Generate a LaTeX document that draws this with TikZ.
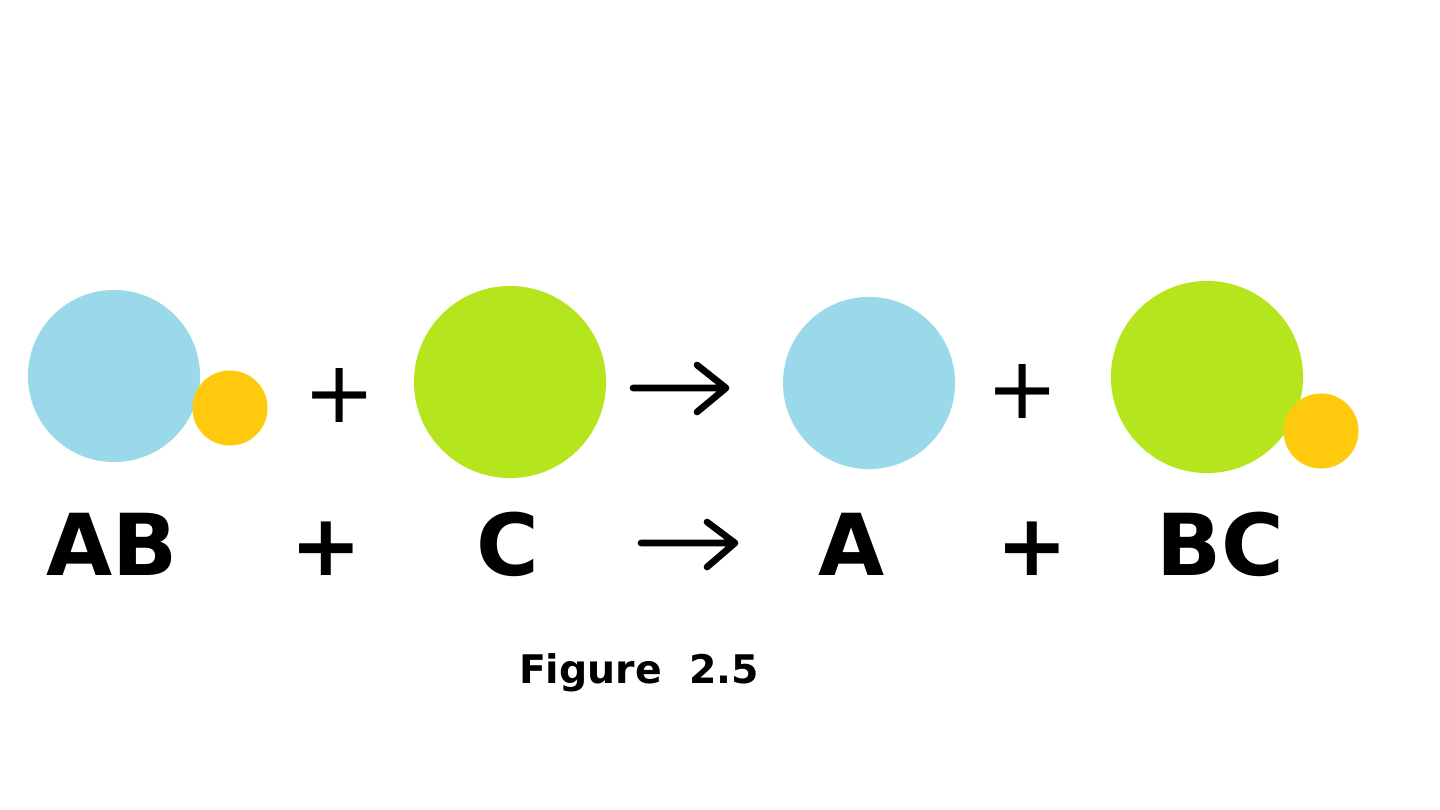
\documentclass[tikz,border=0pt]{standalone}
\usepackage{fontspec}
\setmainfont{DejaVu Sans}
\definecolor{paintblue}{HTML}{99D9EA}
\definecolor{paintgreen}{HTML}{B5E61D}
\definecolor{paintgold}{HTML}{FFC90E}
\begin{document}
\begin{tikzpicture}[x=0.01cm,y=-0.01cm,
  atom/.style={circle,inner sep=0pt,outer sep=0pt,draw=none},
  bigblue/.style={atom,fill=paintblue,minimum size=1.72cm},
  biggreen/.style={atom,fill=paintgreen,minimum size=1.92cm},
  smallgold/.style={atom,fill=paintgold,minimum size=0.75cm},
  thinsym/.style={inner sep=0pt,font=\fontsize{24.5}{28}\selectfont},
  label/.style={inner sep=0pt,anchor=base,font=\fontsize{24.3}{28}\selectfont\bfseries},
  caption/.style={inner sep=0pt,anchor=base,font=\fontsize{11.2}{13}\selectfont\bfseries},
  thinarrow/.style={line width=1.9pt,line cap=round,line join=round},
  boldarrow/.style={line width=1.9pt,line cap=round,line join=round}]
\useasboundingbox[fill=white] (0,0) rectangle (1440,809);
% top row: molecules
\node[bigblue] (ab) at (114,376) {};
\node[smallgold] (abg) at (230,408) {};
\node[thinsym] (p1) at (340,395) {+};
\node[biggreen] (c) at (510,382) {};
\coordinate (t1s) at (633,388);
\coordinate (t1e) at (726,388);
\draw[thinarrow] (t1s) -- (t1e) (697,365) -- (t1e) -- (697,412);
\node[bigblue] (a) at (869,383) {};
\node[thinsym] (p2) at (1023,391) {+};
\node[biggreen] (bc) at (1207,377) {};
\node[smallgold] (bcg) at (1321,431) {};
% bottom row: formula
\node[label] (lab) at (112,575) {AB};
\node[label] (lp1) at (326,575) {+};
\node[label] (lc) at (508,575) {C};
\coordinate (b1s) at (641,543);
\coordinate (b1e) at (735,543);
\draw[boldarrow] (b1s) -- (b1e) (707,522) -- (b1e) -- (707,567);
\node[label] (la) at (852,575) {A};
\node[label] (lp2) at (1032,575) {+};
\node[label] (lbc) at (1220,575) {BC};
% caption
\node[caption] (cap) at (639,683) {Figure\ \ 2.5};
\end{tikzpicture}
\end{document}
